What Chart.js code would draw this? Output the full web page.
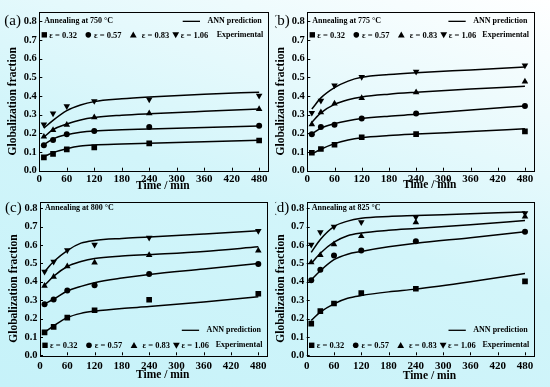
<!DOCTYPE html>
<html>
<head>
<meta charset="utf-8">
<script src="https://cdn.jsdelivr.net/npm/chart.js@4.4.1/dist/chart.umd.min.js"></script>
<style>
html, body { margin: 0; padding: 0; }
body {
    width: 550px; height: 387px; position: relative; overflow: hidden;
    background: linear-gradient(200deg, #ffffff 0%, #eefbfd 20%, #d2f5fa 52%, #c6f2f9 100%);
}
canvas { position: absolute; }
</style>
</head>
<body>
<canvas id="pa" width="275" height="193" style="left:0;top:0"></canvas>
<canvas id="pb" width="275" height="193" style="left:275px;top:0"></canvas>
<canvas id="pc" width="275" height="194" style="left:0;top:193px"></canvas>
<canvas id="pd" width="275" height="194" style="left:275px;top:193px"></canvas>
<script>
const sampleTimes = [10, 30, 60, 120, 240, 480];
const curveTimes = [10, 30, 60, 90, 120, 180, 240, 360, 480];
const strains = ['ε = 0.32', 'ε = 0.57', 'ε = 0.83', 'ε = 1.06'];
const xTicks = [0, 60, 120, 180, 240, 300, 360, 420, 480];
const yTicks = [0, 0.1, 0.2, 0.3, 0.4, 0.5, 0.6, 0.7, 0.8];

// experimental points, one row per strain
const exp750 = [
    [0.071, 0.090, 0.114, 0.125, 0.146, 0.162],
    [0.136, 0.164, 0.195, 0.212, 0.234, 0.241],
    [0.182, 0.218, 0.246, 0.286, 0.307, 0.330],
    [0.248, 0.307, 0.346, 0.373, 0.382, 0.402]
];
const exp775 = [
    [0.096, 0.116, 0.139, 0.179, 0.196, 0.211],
    [0.195, 0.234, 0.246, 0.279, 0.307, 0.346],
    [0.248, 0.313, 0.360, 0.389, 0.420, 0.477],
    [0.310, 0.375, 0.457, 0.502, 0.530, 0.564]
];
const exp800 = [
    [0.125, 0.155, 0.205, 0.245, 0.302, 0.335],
    [0.278, 0.303, 0.352, 0.381, 0.442, 0.497],
    [0.378, 0.427, 0.484, 0.504, 0.545, 0.570],
    [0.455, 0.509, 0.572, 0.602, 0.640, 0.677]
];
const exp825 = [
    [0.172, 0.240, 0.282, 0.338, 0.362, 0.402],
    [0.408, 0.466, 0.543, 0.570, 0.620, 0.672],
    [0.505, 0.545, 0.604, 0.648, 0.723, 0.755],
    [0.602, 0.670, 0.700, 0.724, 0.751, 0.773]
];

// ANN prediction curves, read at curveTimes
const ann750 = [
    [0.075, 0.097, 0.118, 0.132, 0.138, 0.143, 0.147, 0.155, 0.163],
    [0.140, 0.170, 0.193, 0.206, 0.213, 0.219, 0.223, 0.232, 0.240],
    [0.180, 0.220, 0.250, 0.272, 0.285, 0.297, 0.305, 0.318, 0.330],
    [0.228, 0.270, 0.322, 0.352, 0.370, 0.385, 0.395, 0.410, 0.420]
];
const ann775 = [
    [0.090, 0.115, 0.145, 0.165, 0.177, 0.188, 0.196, 0.210, 0.225],
    [0.197, 0.228, 0.252, 0.268, 0.279, 0.292, 0.302, 0.325, 0.347],
    [0.260, 0.310, 0.355, 0.380, 0.395, 0.410, 0.420, 0.437, 0.452],
    [0.330, 0.390, 0.445, 0.480, 0.500, 0.515, 0.525, 0.540, 0.555]
];
const ann800 = [
    [0.125, 0.160, 0.205, 0.228, 0.240, 0.255, 0.265, 0.290, 0.318],
    [0.280, 0.305, 0.350, 0.375, 0.395, 0.420, 0.440, 0.470, 0.500],
    [0.380, 0.430, 0.483, 0.510, 0.527, 0.540, 0.548, 0.565, 0.590],
    [0.455, 0.510, 0.570, 0.610, 0.625, 0.636, 0.643, 0.660, 0.677]
];
const ann825 = [
    [0.190, 0.235, 0.280, 0.310, 0.325, 0.345, 0.360, 0.400, 0.445],
    [0.410, 0.460, 0.520, 0.550, 0.565, 0.590, 0.610, 0.640, 0.672],
    [0.500, 0.555, 0.615, 0.650, 0.665, 0.680, 0.690, 0.710, 0.733],
    [0.560, 0.630, 0.700, 0.730, 0.745, 0.755, 0.760, 0.770, 0.780]
];

const FONT = '"Liberation Serif", "Times New Roman", serif';
const markers = [
    { style: 'rect', radius: 4, rotation: 0 },
    { style: 'circle', radius: 3, rotation: 0 },
    { style: 'triangle', radius: 3.8, rotation: 0 },
    { style: 'triangle', radius: 3.8, rotation: 180 }
];

function legendMark(ctx, m, x, y) {
    ctx.beginPath();
    if (m.style === 'rect') {
        ctx.rect(x - 2.7, y - 2.7, 5.4, 5.4);
    } else if (m.style === 'circle') {
        ctx.arc(x, y, 2.8, 0, Math.PI * 2);
    } else {
        const d = m.rotation ? -1 : 1;
        ctx.moveTo(x, y - 3.4 * d);
        ctx.lineTo(x + 3.4, y + 2.6 * d);
        ctx.lineTo(x - 3.4, y + 2.6 * d);
        ctx.closePath();
    }
    ctx.fill();
}

const framePlugin = {
    id: 'frame',
    afterDraw(chart) {
        const o = chart.options.plugins.frame;
        const { ctx, chartArea: a, scales: { x, y } } = chart;
        ctx.save();
        ctx.strokeStyle = '#000';
        ctx.fillStyle = '#000';
        ctx.lineWidth = 1;
        ctx.strokeRect(Math.round(a.left) + 0.5, Math.round(a.top) + 0.5,
            Math.round(a.right - a.left), Math.round(a.bottom - a.top));
        // inward tick marks
        ctx.beginPath();
        xTicks.forEach(v => {
            const px = Math.round(x.getPixelForValue(v)) + 0.5;
            ctx.moveTo(px, a.bottom);
            ctx.lineTo(px, a.bottom - 3);
        });
        yTicks.forEach(v => {
            const py = Math.round(y.getPixelForValue(v)) + 0.5;
            ctx.moveTo(a.left, py);
            ctx.lineTo(a.left + 3, py);
        });
        ctx.stroke();

        // panel letter
        ctx.font = '15px ' + FONT;
        ctx.textAlign = 'left';
        ctx.textBaseline = 'middle';
        ctx.fillText(o.letter, a.left - 35, y.getPixelForValue(0.8));

        // axis titles
        ctx.font = 'bold 11.5px ' + FONT;
        ctx.textAlign = 'center';
        ctx.fillText('Time / min', (a.left + a.right) / 2 + 9, a.bottom + o.xTitleOff);
        ctx.save();
        ctx.translate(a.left - 26, (a.top + a.bottom) / 2 + 10);
        ctx.rotate(-Math.PI / 2);
        ctx.fillText('Globalization fraction', 0, 0);
        ctx.restore();

        // legend
        ctx.font = 'bold 8px ' + FONT;
        ctx.textAlign = 'left';
        const yTop = y.getPixelForValue(0.8);
        ctx.fillText('Annealing at ' + o.temp + ' °C', a.left + 5, yTop);
        const annY = o.legendBottom ? a.bottom - 25 : yTop;
        const rowY = o.legendBottom ? a.bottom - 10 : yTop + 13.5;
        ctx.beginPath();
        ctx.lineWidth = 1.3;
        ctx.moveTo(a.right - 85.6, annY);
        ctx.lineTo(a.right - 68.3, annY);
        ctx.stroke();
        ctx.textAlign = 'right';
        ctx.fillText('ANN prediction', a.right - 6.5, annY);
        ctx.fillText('Experimental', a.right - 5, rowY);
        const markX = [5, 49, 94, 136.4];
        const textX = [10, 54.7, 102.4, 141.4];
        ctx.font = 'bold 8.5px ' + FONT;
        ctx.textAlign = 'left';
        strains.forEach((s, i) => {
            legendMark(ctx, markers[i], a.left + markX[i], rowY);
            ctx.fillText(s, a.left + textX[i], rowY + 0.5);
        });
        ctx.restore();
    }
};

function makeChart(id, letter, temp, exp, ann, lay) {
    const datasets = [];
    ann.forEach(row => {
        datasets.push({
            data: curveTimes.map((t, j) => ({ x: t, y: row[j] })),
            borderColor: '#000',
            borderWidth: 1.5,
            pointRadius: 0,
            cubicInterpolationMode: 'monotone',
            fill: false
        });
    });
    exp.forEach((row, i) => {
        datasets.push({
            data: sampleTimes.map((t, j) => ({ x: t, y: row[j] })),
            showLine: false,
            pointStyle: markers[i].style,
            pointRadius: markers[i].radius,
            pointRotation: markers[i].rotation,
            backgroundColor: '#000',
            borderColor: '#000',
            borderWidth: 0
        });
    });
    return new Chart(document.getElementById(id), {
        type: 'line',
        data: { datasets: datasets },
        plugins: [framePlugin],
        options: {
            responsive: false,
            animation: false,
            events: [],
            layout: { padding: { top: lay.padTop, right: lay.padRight, left: 0, bottom: 0 } },
            plugins: {
                legend: { display: false },
                tooltip: { enabled: false },
                frame: { letter: letter, temp: temp, xTitleOff: lay.xTitleOff, legendBottom: lay.legendBottom }
            },
            scales: {
                x: {
                    type: 'linear', min: 0, max: 500,
                    afterBuildTicks: s => { s.ticks = xTicks.map(v => ({ value: v })); },
                    ticks: { padding: lay.xTickPad, color: '#000', maxRotation: 0, autoSkip: false,
                             font: { family: FONT, size: 11, weight: 'bold' } },
                    grid: { display: false, drawTicks: false },
                    border: { display: false },
                    afterFit: s => { s.height = lay.xHeight; }
                },
                y: {
                    min: 0, max: lay.yMax,
                    afterBuildTicks: s => { s.ticks = yTicks.map(v => ({ value: v })); },
                    ticks: { padding: 2.5, color: '#000', callback: v => v.toFixed(1),
                             font: { family: FONT, size: 10.5, weight: 'bold' } },
                    grid: { display: false, drawTicks: false },
                    border: { display: false },
                    afterFit: s => { s.width = lay.yWidth; }
                }
            }
        }
    });
}

makeChart('pa', '(a)', 750, exp750, ann750,
    { yWidth: 39.3, padTop: 12, padRight: 6.7, xHeight: 22.3, yMax: 0.85, xTickPad: 1.5, xTitleOff: 15, legendBottom: false });
makeChart('pb', '(b)', 775, exp775, ann775,
    { yWidth: 32.3, padTop: 12, padRight: 16, xHeight: 22.3, yMax: 0.85, xTickPad: 1.5, xTitleOff: 14.5, legendBottom: false });
makeChart('pc', '(c)', 800, exp800, ann800,
    { yWidth: 40, padTop: 8, padRight: 7.6, xHeight: 31.7, yMax: 0.835, xTickPad: 4, xTitleOff: 20, legendBottom: true });
makeChart('pd', '(d)', 825, exp825, ann825,
    { yWidth: 31.7, padTop: 8, padRight: 15.9, xHeight: 31.7, yMax: 0.835, xTickPad: 4, xTitleOff: 20.5, legendBottom: true });
</script>
</body>
</html>
